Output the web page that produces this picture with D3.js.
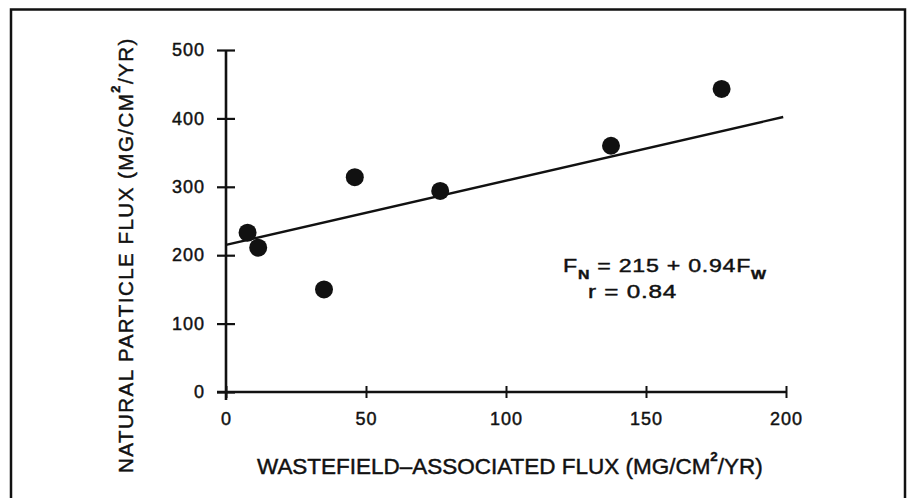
<!DOCTYPE html>
<html>
<head>
<meta charset="utf-8">
<script src="https://cdn.jsdelivr.net/npm/d3@7"></script>
<style>
  body { margin: 0; background: #fff; }
  svg { display: block; }
  text { font-family: "Liberation Sans", Arial, sans-serif; fill: #111; stroke: #111; stroke-width: 0.45px; }
</style>
</head>
<body>
<div id="chart"></div>
<script>
// data
const wasteFlux = [7.7, 11.5, 35, 46, 76.5, 137.5, 177];
const naturalFlux = [233, 211, 150, 314, 294, 360, 443];
const xTicks = [0, 50, 100, 150, 200];
const yTicks = [0, 100, 200, 300, 400, 500];
const fitIntercept = [215];
const fitSlope = [0.94];
const fitRange = [0, 199];

const W = 908, H = 498;
const margin = { top: 50, right: 122, bottom: 106, left: 226 };
const width = W - margin.left - margin.right;
const height = H - margin.top - margin.bottom;

const svg = d3.select("#chart").append("svg")
  .attr("width", W)
  .attr("height", H);

// page frame (bottom edge runs off the page)
svg.append("path")
  .attr("d", `M11,${H + 5}V9.5H905V${H + 5}`)
  .attr("fill", "none")
  .attr("stroke", "#111")
  .attr("stroke-width", 2.5);

const g = svg.append("g")
  .attr("transform", `translate(${margin.left},${margin.top})`);

const x = d3.scaleLinear().domain([0, 200]).range([0, width]);
const y = d3.scaleLinear().domain([0, 500]).range([height, 0]);

// y axis with crossing ticks
const yAxis = g.append("g")
  .call(d3.axisLeft(y).tickValues(yTicks).tickSize(9).tickPadding(12));
yAxis.select(".domain").remove();
yAxis.selectAll(".tick line")
  .attr("x1", -9).attr("x2", 9)
  .attr("stroke", "#111").attr("stroke-width", 2.2);
yAxis.selectAll(".tick text")
  .attr("x", -21)
  .attr("font-size", 18)
  .attr("letter-spacing", 1)
  .style("font-family", "'Liberation Sans', Arial, sans-serif");
yAxis.append("line")
  .attr("y1", y(0) + 8).attr("y2", y(500))
  .attr("stroke", "#111").attr("stroke-width", 2.6);

// x axis with crossing ticks
const xAxis = g.append("g")
  .attr("transform", `translate(0,${height})`)
  .call(d3.axisBottom(x).tickValues(xTicks).tickSize(6));
xAxis.select(".domain").remove();
xAxis.selectAll(".tick line")
  .attr("y1", -6).attr("y2", 6)
  .attr("stroke", "#111").attr("stroke-width", 2);
xAxis.selectAll(".tick text")
  .attr("y", 20)
  .attr("dy", "0.71em")
  .attr("font-size", 18)
  .attr("letter-spacing", 1)
  .style("font-family", "'Liberation Sans', Arial, sans-serif");
xAxis.append("line")
  .attr("x1", -9).attr("x2", x(200))
  .attr("stroke", "#111").attr("stroke-width", 2.6);

// regression line
const fit = d => fitIntercept[0] + fitSlope[0] * d;
g.append("line")
  .attr("x1", x(fitRange[0])).attr("y1", y(fit(fitRange[0])))
  .attr("x2", x(fitRange[1])).attr("y2", y(fit(fitRange[1])))
  .attr("stroke", "#111")
  .attr("stroke-width", 2.4);

// points
g.selectAll("circle.pt")
  .data(wasteFlux.map((d, i) => [d, naturalFlux[i]]))
  .enter().append("circle")
  .attr("class", "pt")
  .attr("cx", d => x(d[0]))
  .attr("cy", d => y(d[1]))
  .attr("r", 9)
  .attr("fill", "#111");

// helper: squeeze/stretch text horizontally to a target width
function fitWidth(sel, target) {
  const w = sel.node().getBBox().width;
  return target / w;
}

// equation
const eq = svg.append("text")
  .attr("font-size", 19)
  .attr("letter-spacing", 0.6);
eq.append("tspan").text("F");
eq.append("tspan").attr("font-size", 13).attr("dy", 7).attr("font-weight", "bold").text("N");
eq.append("tspan").attr("dy", -7).text(" = 215 + 0.94F");
eq.append("tspan").attr("font-size", 13).attr("dy", 7).attr("font-weight", "bold").text("W");
const eqS = fitWidth(eq, 204);
eq.attr("transform", `translate(563,272) scale(${eqS},1)`);

const rr = svg.append("text")
  .attr("font-size", 19)
  .attr("letter-spacing", 0.6)
  .text("r = 0.84");
const rS = fitWidth(rr, 89);
rr.attr("transform", `translate(588,298) scale(${rS},1)`);

// x axis title
const xt = svg.append("text").attr("font-size", 22);
xt.append("tspan").text("WASTEFIELD\u2013ASSOCIATED FLUX (MG/CM");
xt.append("tspan").attr("font-size", 13).attr("dy", -13).attr("font-weight", "bold").text("2");
xt.append("tspan").attr("dy", 13).text("/YR)");
const xtS = fitWidth(xt, 506);
xt.attr("transform", `translate(257,474) scale(${xtS},1)`);

// y axis title
const yt = svg.append("text").attr("font-size", 21).attr("letter-spacing", 1.5);
yt.append("tspan").text("NATURAL PARTICLE FLUX (MG/CM");
yt.append("tspan").attr("font-size", 13).attr("dy", -13).attr("font-weight", "bold").text("2");
yt.append("tspan").attr("dy", 13).text("/YR)");
const ytS = fitWidth(yt, 436);
yt.attr("transform", `translate(133,473) rotate(-90) scale(${ytS},1)`);
</script>
</body>
</html>
